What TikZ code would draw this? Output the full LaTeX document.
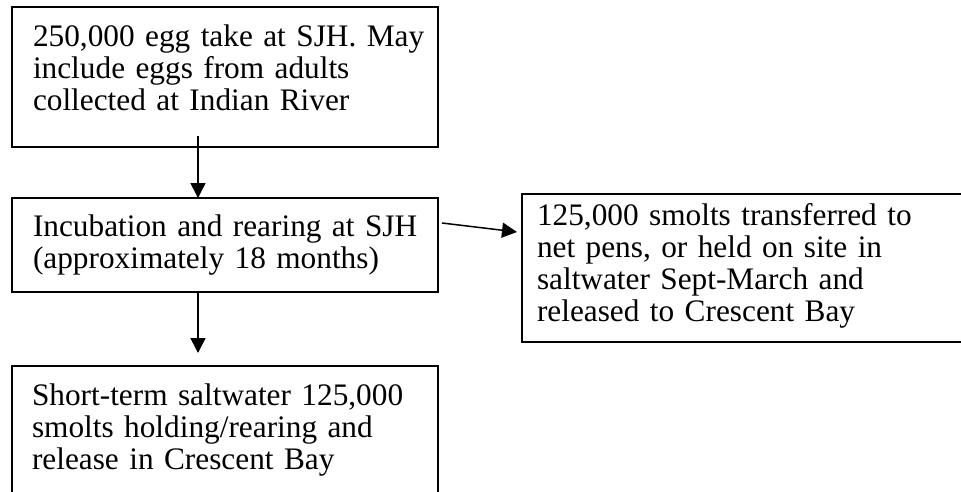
\documentclass[tikz,border=0pt]{standalone}
\usepackage{fontspec}
\setmainfont{Liberation Serif}
\usetikzlibrary{arrows.meta}
\begin{document}
\begin{tikzpicture}[x=1pt,y=1pt,
  box/.style={draw=black, line width=2pt, inner sep=0pt, outer sep=0pt, anchor=north west},
  label/.style={inner sep=0pt, outer sep=0pt, anchor=north west, text width=430pt, align=left,
    font=\fontsize{31.3}{32.3}\selectfont},
  arr/.style={line width=1.5pt, -{Triangle[width=15pt,length=15pt]}}]
\useasboundingbox (0,0) rectangle (961,491);
\clip (0,0) rectangle (961,491);
\fill[white] (0,0) rectangle (961,491);
% boxes
\node[box, minimum width=426pt, minimum height=140pt] (b1) at (12,484) {};
\node[box, minimum width=426pt, minimum height=94pt] (b2) at (12,293) {};
\node[box, minimum width=426pt, minimum height=145pt] (b3) at (12,125) {};
\node[box, minimum width=460pt, minimum height=148pt] (rb) at (522,297) {};
% texts
\node[label] (t1) at (33,467.6) {\strut 250,000 egg take at SJH. May\\include eggs from adults\\collected at Indian River};
\node[label] (t2) at (33,277.6) {\strut Incubation and rearing at SJH\\(approximately 18 months)};
\node[label] (t3) at (32,108.6) {\strut Short-term saltwater 125,000\\smolts holding/rearing and\\release in Crescent Bay};
\node[label] (tr) at (537,288.6) {\strut 125,000 smolts transferred to\\net pens, or held on site in\\saltwater Sept-March and\\released to Crescent Bay};
% arrows
\draw[arr] ([shift={(186,11)}]b1.south west) -- ([xshift=186]b2.north west);
\draw[arr] ([xshift=186]b2.south west) -- ([shift={(186,13)}]b3.north west);
\draw[arr] ([shift={(4,-25)}]b2.north east) -- ([shift={(-5,-38)}]rb.north west);
\end{tikzpicture}
\end{document}
